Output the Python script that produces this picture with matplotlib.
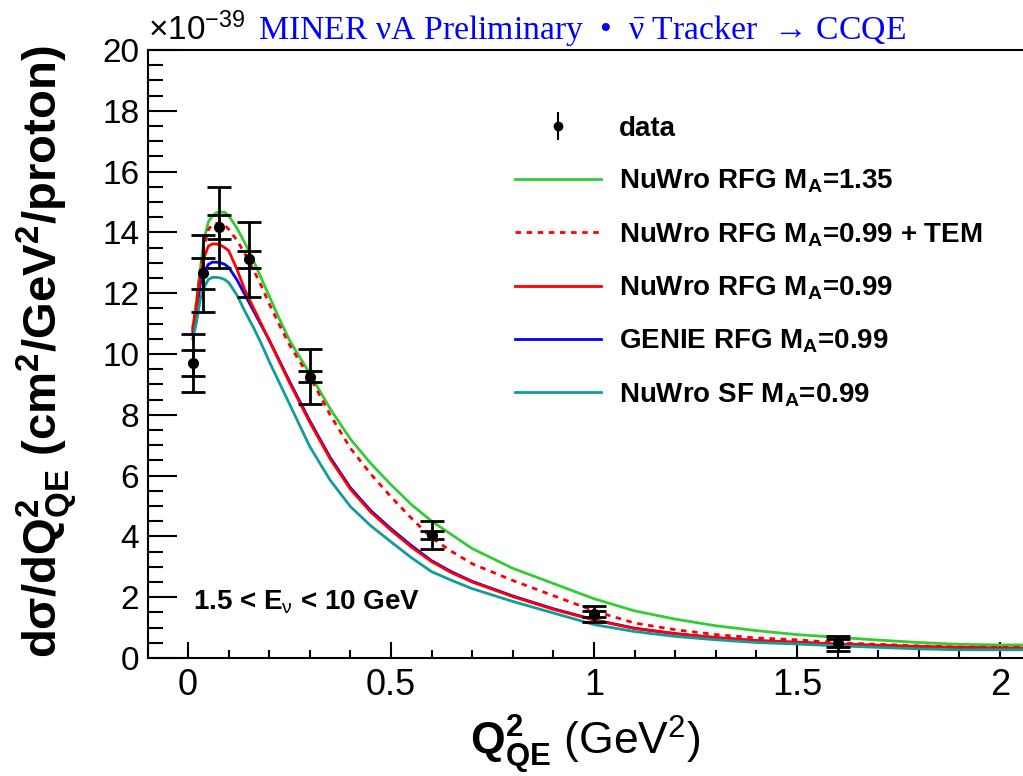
import numpy as np
import matplotlib
matplotlib.use("Agg")
import matplotlib.pyplot as plt
from matplotlib.ticker import MultipleLocator

plt.rcParams['font.family'] = ['Liberation Sans', 'DejaVu Sans']
plt.rcParams['mathtext.fontset'] = 'custom'
plt.rcParams['mathtext.rm'] = 'Liberation Serif'
plt.rcParams['mathtext.sf'] = 'Liberation Sans'
plt.rcParams['mathtext.it'] = 'Liberation Sans:italic'
plt.rcParams['mathtext.bf'] = 'Liberation Sans:bold'

# data points (x1e-39 cm2/GeV2/proton)
q2_data = [0.0125, 0.0375, 0.075, 0.15, 0.3, 0.6, 1.0, 1.6]
xs_data = [9.71, 12.65, 14.17, 13.11, 9.25, 4.05, 1.45, 0.48]
err_tot = [0.95, 1.27, 1.33, 1.22, 0.90, 0.46, 0.25, 0.25]
err_stat = [0.43, 0.52, 0.40, 0.29, 0.18, 0.14, 0.10, 0.13]

# model curves
q2_mc = [0.0115, 0.02, 0.03, 0.04, 0.05, 0.06, 0.07, 0.08, 0.09, 0.1, 0.12, 0.14,
         0.16, 0.18, 0.2, 0.225, 0.25, 0.275, 0.3, 0.35, 0.4, 0.45, 0.5, 0.55,
         0.6, 0.65, 0.7, 0.8, 0.9, 1.0, 1.1, 1.2, 1.3, 1.4, 1.5, 1.6, 1.7, 1.8,
         1.9, 2.0, 2.06]
nuwro_rfg_135 = [10.9, 11.7, 12.8, 13.8, 14.35, 14.55, 14.65, 14.67, 14.66, 14.55, 14.15, 13.65,
                 13.1, 12.5, 11.9, 11.15, 10.45, 9.9, 9.35, 8.2, 7.2, 6.4, 5.7, 5.05,
                 4.5, 4.05, 3.6, 2.95, 2.45, 1.95, 1.55, 1.28, 1.06, 0.9, 0.77, 0.68, 0.59, 0.51,
                 0.45, 0.43, 0.43]
nuwro_rfg_tem = [10.8, 11.6, 12.7, 13.6, 14.1, 14.25, 14.3, 14.3, 14.25, 14.1, 13.75, 13.3,
                 12.8, 12.25, 11.65, 10.95, 10.3, 9.75, 9.25, 8.0, 6.9, 6.05, 5.3, 4.6,
                 3.95, 3.5, 3.1, 2.55, 2.05, 1.55, 1.15, 0.93, 0.77, 0.66, 0.6, 0.5, 0.45, 0.4,
                 0.36, 0.35, 0.35]
nuwro_rfg_099 = [10.8, 11.5, 12.6, 13.2, 13.55, 13.62, 13.62, 13.58, 13.5, 13.4, 12.8, 12.1,
                 11.55, 11.0, 10.45, 9.75, 9.05, 8.4, 7.75, 6.55, 5.55, 4.8, 4.2, 3.65,
                 3.17, 2.8, 2.5, 2.02, 1.6, 1.25, 0.97, 0.8, 0.67, 0.57, 0.52, 0.46, 0.42, 0.38,
                 0.35, 0.33, 0.33]
genie_rfg_099 = [10.7, 11.3, 12.3, 12.7, 12.95, 13.02, 13.02, 13.0, 12.95, 12.85, 12.45, 11.95,
                 11.45, 10.95, 10.45, 9.78, 9.1, 8.45, 7.8, 6.6, 5.6, 4.85, 4.25, 3.7,
                 3.2, 2.83, 2.52, 2.04, 1.62, 1.26, 0.98, 0.8, 0.67, 0.57, 0.51, 0.45, 0.41, 0.37,
                 0.34, 0.32, 0.32]
nuwro_sf_099 = [10.5, 11.0, 11.8, 12.2, 12.45, 12.52, 12.52, 12.5, 12.45, 12.35, 11.95, 11.4,
                10.9, 10.35, 9.75, 9.05, 8.35, 7.65, 6.95, 5.85, 4.98, 4.35, 3.82, 3.3,
                2.84, 2.55, 2.28, 1.86, 1.48, 1.1, 0.87, 0.71, 0.6, 0.51, 0.46, 0.4, 0.35, 0.3,
                0.27, 0.27, 0.27]

fig = plt.figure(figsize=(10.23, 7.76), dpi=100)
ax = fig.add_axes([147.5 / 1023, 1 - 658 / 776, 1 - 147.5 / 1023, 608 / 776])

lw = 2.0
ax.plot(q2_mc, nuwro_rfg_135, color='#33cc33', lw=lw, label=r'NuWro RFG M$_\mathbf{A}$=1.35')
ax.plot(q2_mc, nuwro_rfg_tem, color='#ff0000', lw=lw, ls=(0, (2, 2)),
        label=r'NuWro RFG M$_\mathbf{A}$=0.99 + TEM')
ax.plot(q2_mc, genie_rfg_099, color='#0000ff', lw=lw, label=r'GENIE RFG M$_\mathbf{A}$=0.99')
ax.plot(q2_mc, nuwro_rfg_099, color='#ff0000', lw=lw, label=r'NuWro RFG M$_\mathbf{A}$=0.99')
ax.plot(q2_mc, nuwro_sf_099, color='#119c9c', lw=lw, label=r'NuWro SF M$_\mathbf{A}$=0.99')

ax.errorbar(q2_data, xs_data, yerr=err_tot, fmt='o', color='k', ms=7, elinewidth=2,
            capsize=8.5, capthick=2, zorder=5)
ax.errorbar(q2_data, xs_data, yerr=err_stat, fmt='none', ecolor='k', elinewidth=2,
            capsize=8.5, capthick=2, zorder=5)
data_proxy = ax.errorbar([np.nan], [np.nan], yerr=[np.nan], fmt='o', color='k', ms=6,
                         elinewidth=1.5, capsize=0)

ax.set_xlim(-0.1, 2.057)
ax.set_ylim(0, 20)
ax.xaxis.set_major_locator(MultipleLocator(0.5))
ax.xaxis.set_minor_locator(MultipleLocator(0.1))
ax.yaxis.set_major_locator(MultipleLocator(2))
ax.yaxis.set_minor_locator(MultipleLocator(0.5))
ax.xaxis.set_major_formatter(plt.FuncFormatter(lambda v, p: f'{v:g}'))
ax.tick_params(axis='both', which='both', direction='in', width=1.5, colors='k')
ax.tick_params(axis='x', which='major', length=11.5, pad=7, labelsize=26)
ax.tick_params(axis='x', which='minor', length=5.8)
ax.tick_params(axis='y', which='major', length=21, pad=6, labelsize=24)
ax.tick_params(axis='y', which='minor', length=10.5)
for side in ['left', 'bottom', 'top']:
    ax.spines[side].set_linewidth(1.5)
ax.spines['right'].set_visible(False)

ax.set_xlabel(r'$\mathbf{Q^2_{QE}}$ (GeV$^\mathsf{2}$)', fontsize=32, va='center')
ax.xaxis.set_label_coords(0.5, -0.143)
ax.set_ylabel(r'dσ/dQ$^\mathbf{2}_\mathbf{QE}$ (cm$^\mathbf{2}$/GeV$^\mathbf{2}$/proton)',
              fontsize=34, fontweight='bold', va='center')
ax.yaxis.set_label_coords(-0.1148, 0.503)

ax.text(0.0, 1.004, r'×10$^\mathsf{-39}$', transform=ax.transAxes, fontsize=24,
        ha='left', va='bottom')
fig.text(258 / 1023, 1 - 31 / 776,
         r'MINER νA Preliminary  •  $\bar{\mathrm{ν}}$ Tracker  → CCQE',
         color='#0000ff', fontsize=24.3, family=['Liberation Serif', 'DejaVu Serif'],
         ha='left', va='center')
ax.text(0.0116, 1.58, r'1.5 < E$_\mathsf{ν}$ < 10 GeV', fontsize=20, fontweight='bold',
        ha='left', va='baseline')

handles, labels = ax.get_legend_handles_labels()
order = ['NuWro RFG M$_\\mathbf{A}$=1.35', 'NuWro RFG M$_\\mathbf{A}$=0.99 + TEM',
         'NuWro RFG M$_\\mathbf{A}$=0.99', 'GENIE RFG M$_\\mathbf{A}$=0.99',
         'NuWro SF M$_\\mathbf{A}$=0.99']
lh = [data_proxy] + [handles[labels.index(o)] for o in order]
ll = ['data'] + order
leg = fig.legend(lh, ll, loc='upper left', bbox_to_anchor=(515 / 1023, 1 - 116 / 776),
                 frameon=False, prop={'size': 20, 'weight': 'bold'}, handlelength=3.1,
                 handletextpad=0.65, labelspacing=0.93, borderpad=0, borderaxespad=0)

fig.savefig('out.png', dpi=100)
